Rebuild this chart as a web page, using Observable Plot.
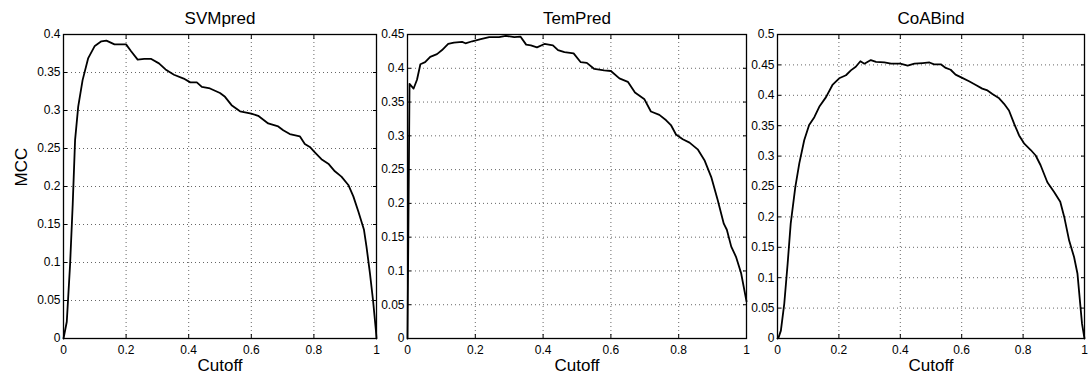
<!DOCTYPE html>
<html><head><meta charset="utf-8">
<script src="https://cdn.jsdelivr.net/npm/d3@7"></script>
<script src="https://cdn.jsdelivr.net/npm/@observablehq/plot@0.6"></script>
<style>
body{margin:0;background:#fff;}
#wrap{position:relative;width:1088px;height:385px;}
#wrap svg{position:absolute;top:0;overflow:visible;}
</style></head><body><div id="wrap"></div>
<script>
const titles = ["SVMpred", "TemPred", "CoABind"];
const xLabel = "Cutoff";
const yLabel = "MCC";
const xTicks = [0, 0.2, 0.4, 0.6, 0.8, 1];
const yTicksSVM = [0, 0.05, 0.1, 0.15, 0.2, 0.25, 0.3, 0.35, 0.4];
const yTicksTem = [0, 0.05, 0.1, 0.15, 0.2, 0.25, 0.3, 0.35, 0.4, 0.45];
const yTicksCoA = [0, 0.05, 0.1, 0.15, 0.2, 0.25, 0.3, 0.35, 0.4, 0.45, 0.5];

const svmCutoff = [0, 0.0105, 0.021, 0.0295, 0.037, 0.047, 0.061, 0.079, 0.10, 0.121, 0.137, 0.163, 0.2, 0.216, 0.237, 0.258, 0.279, 0.305, 0.326, 0.353, 0.384, 0.405, 0.426, 0.442, 0.468, 0.5, 0.516, 0.537, 0.564, 0.6, 0.622, 0.654, 0.686, 0.702, 0.723, 0.755, 0.771, 0.787, 0.803, 0.824, 0.846, 0.867, 0.888, 0.910, 0.926, 0.942, 0.960, 0.968, 0.979, 0.989, 0.998, 1];
const svmMCC    = [0, 0.022, 0.097, 0.177, 0.261, 0.305, 0.340, 0.369, 0.385, 0.391, 0.392, 0.387, 0.387, 0.378, 0.367, 0.368, 0.368, 0.362, 0.354, 0.347, 0.342, 0.337, 0.337, 0.331, 0.329, 0.323, 0.318, 0.307, 0.299, 0.296, 0.293, 0.283, 0.279, 0.274, 0.269, 0.266, 0.256, 0.252, 0.245, 0.236, 0.230, 0.220, 0.213, 0.202, 0.187, 0.167, 0.143, 0.121, 0.086, 0.050, 0.011, 0];

const temCutoff = [0, 0.006, 0.018, 0.028, 0.038, 0.052, 0.067, 0.087, 0.102, 0.120, 0.137, 0.161, 0.171, 0.191, 0.216, 0.241, 0.270, 0.290, 0.315, 0.333, 0.350, 0.364, 0.382, 0.404, 0.429, 0.444, 0.463, 0.490, 0.511, 0.529, 0.551, 0.580, 0.6, 0.625, 0.650, 0.671, 0.699, 0.718, 0.743, 0.763, 0.777, 0.792, 0.812, 0.832, 0.856, 0.876, 0.896, 0.915, 0.933, 0.942, 0.955, 0.969, 0.984, 1];
const temMCC    = [0, 0.377, 0.370, 0.383, 0.406, 0.409, 0.417, 0.421, 0.427, 0.436, 0.438, 0.439, 0.437, 0.440, 0.443, 0.446, 0.446, 0.448, 0.446, 0.447, 0.435, 0.434, 0.431, 0.436, 0.434, 0.427, 0.424, 0.422, 0.409, 0.408, 0.399, 0.397, 0.396, 0.385, 0.380, 0.364, 0.354, 0.336, 0.331, 0.323, 0.316, 0.302, 0.295, 0.290, 0.280, 0.264, 0.239, 0.205, 0.170, 0.161, 0.136, 0.121, 0.097, 0.055];

const coaCutoff = [0, 0.003, 0.011, 0.022, 0.033, 0.043, 0.058, 0.071, 0.087, 0.103, 0.120, 0.136, 0.158, 0.179, 0.201, 0.223, 0.239, 0.255, 0.270, 0.283, 0.304, 0.321, 0.348, 0.370, 0.4, 0.424, 0.446, 0.473, 0.495, 0.510, 0.532, 0.548, 0.564, 0.580, 0.6, 0.624, 0.646, 0.667, 0.684, 0.700, 0.722, 0.738, 0.754, 0.771, 0.787, 0.803, 0.825, 0.841, 0.857, 0.879, 0.901, 0.921, 0.934, 0.950, 0.966, 0.977, 0.986, 0.992, 1];
const coaMCC    = [0, 0.001, 0.013, 0.057, 0.123, 0.189, 0.249, 0.288, 0.326, 0.351, 0.364, 0.381, 0.397, 0.417, 0.428, 0.433, 0.441, 0.447, 0.456, 0.452, 0.458, 0.455, 0.454, 0.452, 0.452, 0.449, 0.452, 0.453, 0.454, 0.451, 0.451, 0.445, 0.442, 0.434, 0.429, 0.423, 0.417, 0.411, 0.408, 0.402, 0.395, 0.386, 0.375, 0.353, 0.334, 0.321, 0.310, 0.301, 0.285, 0.257, 0.241, 0.225, 0.200, 0.161, 0.134, 0.107, 0.057, 0.024, 0];

const panels = [
  {title: titles[0], cutoff: svmCutoff, mcc: svmMCC, yTicks: yTicksSVM, left: 0,   width: 378, ml: 63, mr: 2, ylab: true},
  {title: titles[1], cutoff: temCutoff, mcc: temMCC, yTicks: yTicksTem, left: 378, width: 370, ml: 29, mr: 2, ylab: false},
  {title: titles[2], cutoff: coaCutoff, mcc: coaMCC, yTicks: yTicksCoA, left: 748, width: 340, ml: 29, mr: 4, ylab: false}
];

const fmt = d => d === 0 ? "0" : String(+d.toFixed(2));
const font = "'Liberation Sans', Arial, Helvetica, sans-serif";
const wrap = document.getElementById("wrap");
const gridStyle = {stroke: "#000", strokeOpacity: 0.6, strokeDasharray: "1,3", strokeWidth: 1};

for (const p of panels) {
  const data = p.cutoff.map((c, i) => ({c, m: p.mcc[i]}));
  const yMax = p.yTicks[p.yTicks.length - 1];
  const marks = [
    Plot.gridX(xTicks, gridStyle),
    Plot.gridY(p.yTicks, gridStyle),
    Plot.axisX(xTicks, {anchor: "bottom", tickSize: 0, tickPadding: 7, tickFormat: fmt, label: null, fontSize: 12}),
    Plot.axisY(p.yTicks, {anchor: "left", tickSize: 0, tickPadding: 3, tickFormat: fmt, label: null, fontSize: 12}),
    Plot.axisX(xTicks, {anchor: "bottom", tickSize: -4, fill: "none", label: null}),
    Plot.axisX(xTicks, {anchor: "top", tickSize: -4, fill: "none", label: null}),
    Plot.axisY(p.yTicks, {anchor: "left", tickSize: -4, fill: "none", label: null}),
    Plot.axisY(p.yTicks, {anchor: "right", tickSize: -4, fill: "none", label: null}),
    Plot.line(data, {x: "c", y: "m", stroke: "black", strokeWidth: 1.8}),
    Plot.frame({stroke: "black", strokeWidth: 1.3}),
    Plot.text([p.title], {frameAnchor: "top", lineAnchor: "middle", dy: -16, fontSize: 17, fill: "black"}),
    Plot.text([xLabel], {frameAnchor: "bottom", lineAnchor: "middle", dy: 27, fontSize: 17, fill: "black"})
  ];
  if (p.ylab) marks.push(Plot.text([yLabel], {frameAnchor: "left", lineAnchor: "middle", dx: -42, rotate: -90, fontSize: 17, fill: "black"}));
  const svg = Plot.plot({
    width: p.width,
    height: 385,
    marginLeft: p.ml,
    marginRight: p.mr,
    marginTop: 34,
    marginBottom: 47,
    x: {domain: [0, 1]},
    y: {domain: [0, yMax]},
    style: {fontFamily: font, fontSize: "12px", color: "black", background: "transparent", overflow: "visible"},
    marks
  });
  svg.style.left = p.left + "px";
  wrap.appendChild(svg);
}
</script></body></html>
